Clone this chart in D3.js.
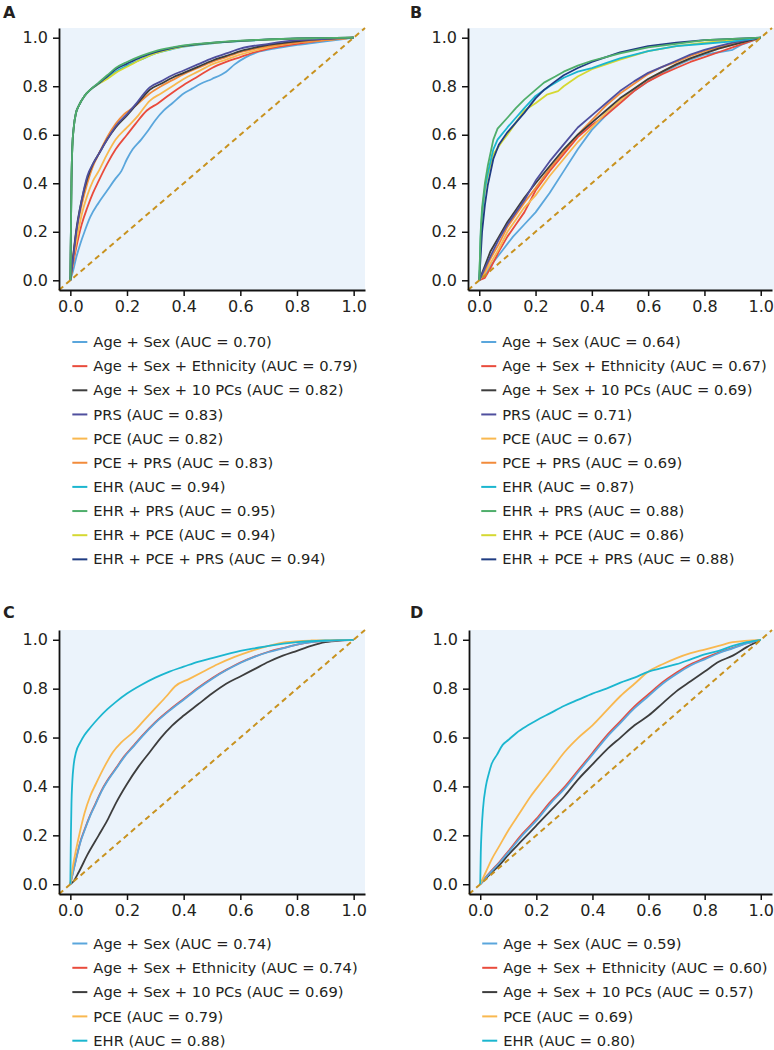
<!DOCTYPE html>
<html><head><meta charset="utf-8">
<script src="https://cdn.jsdelivr.net/npm/d3@7"></script>
<style>
html,body{margin:0;padding:0;background:#fff;}
svg text{font-family:"DejaVu Sans",sans-serif;fill:#231f20;}
</style></head>
<body>
<svg id="c" width="774" height="1050"></svg>
<script>
// ---------- DATA ----------
const tickValues = [0.0, 0.2, 0.4, 0.6, 0.8, 1.0];
const panelLetters = ["A", "B", "C", "D"];

const namesAB = ["Age + Sex", "Age + Sex + Ethnicity", "Age + Sex + 10 PCs", "PRS", "PCE", "PCE + PRS", "EHR", "EHR + PRS", "EHR + PCE", "EHR + PCE + PRS"];
const namesCD = ["Age + Sex", "Age + Sex + Ethnicity", "Age + Sex + 10 PCs", "PCE", "EHR"];
const aucA = [0.70, 0.79, 0.82, 0.83, 0.82, 0.83, 0.94, 0.95, 0.94, 0.94];
const aucB = [0.64, 0.67, 0.69, 0.71, 0.67, 0.69, 0.87, 0.88, 0.86, 0.88];
const aucC = [0.74, 0.74, 0.69, 0.79, 0.88];
const aucD = [0.59, 0.60, 0.57, 0.69, 0.80];

// Panel A
const aAgeSex = [[0,0],[0.01,0.04],[0.02,0.09],[0.035,0.15],[0.05,0.2],[0.07,0.26],[0.1,0.32],[0.13,0.37],[0.16,0.42],[0.18,0.45],[0.2,0.5],[0.22,0.54],[0.25,0.58],[0.27,0.61],[0.3,0.66],[0.33,0.7],[0.36,0.73],[0.4,0.77],[0.43,0.79],[0.46,0.81],[0.5,0.83],[0.55,0.86],[0.58,0.89],[0.62,0.92],[0.66,0.94],[0.72,0.955],[0.8,0.97],[0.9,0.985],[1,1]];
const aEth = [[0,0],[0.01,0.07],[0.02,0.13],[0.04,0.23],[0.06,0.3],[0.08,0.36],[0.1,0.41],[0.13,0.48],[0.16,0.54],[0.2,0.6],[0.23,0.645],[0.27,0.7],[0.31,0.73],[0.35,0.765],[0.4,0.805],[0.45,0.84],[0.5,0.875],[0.55,0.9],[0.6,0.92],[0.65,0.94],[0.7,0.955],[0.8,0.975],[0.9,0.99],[1,1]];
const aPCs = [[0,0],[0.01,0.1],[0.02,0.2],[0.04,0.33],[0.06,0.42],[0.08,0.48],[0.1,0.52],[0.13,0.58],[0.16,0.63],[0.2,0.68],[0.23,0.72],[0.26,0.76],[0.28,0.785],[0.32,0.81],[0.36,0.835],[0.4,0.855],[0.45,0.88],[0.5,0.905],[0.55,0.925],[0.6,0.945],[0.7,0.97],[0.8,0.985],[0.9,0.995],[1,1]];
const aPRS = [[0,0],[0.01,0.09],[0.02,0.19],[0.04,0.33],[0.06,0.43],[0.08,0.48],[0.1,0.52],[0.13,0.58],[0.16,0.635],[0.2,0.685],[0.23,0.725],[0.26,0.77],[0.28,0.795],[0.32,0.82],[0.36,0.845],[0.4,0.865],[0.45,0.89],[0.5,0.915],[0.55,0.935],[0.6,0.955],[0.7,0.975],[0.8,0.99],[0.9,0.995],[1,1]];
const aPCE = [[0,0],[0.01,0.08],[0.02,0.15],[0.04,0.27],[0.06,0.35],[0.08,0.41],[0.1,0.45],[0.13,0.52],[0.16,0.58],[0.2,0.63],[0.24,0.68],[0.28,0.74],[0.32,0.77],[0.36,0.8],[0.4,0.83],[0.45,0.86],[0.5,0.89],[0.55,0.91],[0.6,0.93],[0.7,0.96],[0.8,0.98],[0.9,0.99],[1,1]];
const aPCEPRS = [[0,0],[0.01,0.1],[0.02,0.19],[0.04,0.31],[0.06,0.4],[0.08,0.47],[0.1,0.52],[0.13,0.59],[0.16,0.645],[0.19,0.685],[0.22,0.71],[0.25,0.74],[0.28,0.77],[0.32,0.8],[0.36,0.825],[0.4,0.85],[0.45,0.875],[0.5,0.9],[0.55,0.92],[0.6,0.94],[0.7,0.965],[0.8,0.98],[0.9,0.99],[1,1]];
const aEHR = [[0,0],[0.002,0.2],[0.004,0.4],[0.007,0.55],[0.012,0.63],[0.02,0.69],[0.03,0.72],[0.05,0.76],[0.07,0.785],[0.1,0.81],[0.13,0.835],[0.16,0.86],[0.2,0.885],[0.25,0.91],[0.3,0.935],[0.35,0.95],[0.4,0.963],[0.5,0.977],[0.6,0.986],[0.7,0.992],[0.8,0.996],[1,1]];
const aEHRPRS = [[0,0],[0.002,0.2],[0.004,0.4],[0.007,0.55],[0.012,0.63],[0.02,0.69],[0.03,0.72],[0.05,0.76],[0.07,0.785],[0.1,0.815],[0.13,0.845],[0.16,0.875],[0.2,0.9],[0.25,0.925],[0.3,0.945],[0.35,0.958],[0.4,0.968],[0.5,0.98],[0.6,0.988],[0.7,0.993],[0.8,0.997],[1,1]];
const aEHRPCE = [[0,0],[0.002,0.2],[0.004,0.4],[0.007,0.55],[0.012,0.63],[0.02,0.69],[0.03,0.72],[0.05,0.76],[0.07,0.785],[0.1,0.81],[0.13,0.83],[0.16,0.855],[0.2,0.88],[0.25,0.91],[0.3,0.935],[0.35,0.952],[0.4,0.964],[0.5,0.978],[0.6,0.987],[0.7,0.992],[0.8,0.996],[1,1]];
const aEHRPCEPRS = [[0,0],[0.002,0.2],[0.004,0.4],[0.007,0.55],[0.012,0.63],[0.02,0.69],[0.03,0.72],[0.05,0.76],[0.07,0.785],[0.1,0.812],[0.13,0.84],[0.16,0.87],[0.2,0.893],[0.25,0.92],[0.3,0.94],[0.35,0.955],[0.4,0.966],[0.5,0.979],[0.6,0.987],[0.7,0.993],[0.8,0.997],[1,1]];

// Panel B
const bAgeSex = [[0,0],[0.02,0.02],[0.04,0.06],[0.08,0.12],[0.12,0.18],[0.16,0.23],[0.2,0.28],[0.25,0.36],[0.3,0.45],[0.35,0.54],[0.4,0.62],[0.45,0.68],[0.5,0.74],[0.55,0.78],[0.6,0.82],[0.65,0.855],[0.7,0.885],[0.75,0.91],[0.8,0.93],[0.85,0.94],[0.9,0.95],[0.93,0.97],[1,1]];
const bEth = [[0,0],[0.02,0.01],[0.04,0.05],[0.07,0.12],[0.1,0.18],[0.13,0.23],[0.16,0.28],[0.2,0.37],[0.25,0.45],[0.3,0.52],[0.35,0.59],[0.4,0.64],[0.45,0.68],[0.5,0.73],[0.55,0.78],[0.6,0.82],[0.65,0.85],[0.7,0.875],[0.75,0.9],[0.8,0.92],[0.85,0.94],[0.9,0.96],[1,1]];
const bPCs = [[0,0],[0.02,0.06],[0.04,0.12],[0.07,0.18],[0.1,0.24],[0.13,0.29],[0.16,0.34],[0.2,0.4],[0.25,0.47],[0.3,0.54],[0.35,0.6],[0.4,0.65],[0.45,0.7],[0.5,0.75],[0.55,0.79],[0.6,0.83],[0.65,0.86],[0.7,0.89],[0.75,0.915],[0.8,0.935],[0.85,0.955],[0.9,0.97],[1,1]];
const bPRS = [[0,0],[0.02,0.05],[0.04,0.1],[0.07,0.17],[0.1,0.23],[0.13,0.28],[0.16,0.33],[0.2,0.41],[0.25,0.49],[0.3,0.56],[0.35,0.63],[0.4,0.68],[0.45,0.73],[0.5,0.78],[0.55,0.82],[0.6,0.855],[0.65,0.88],[0.7,0.905],[0.75,0.93],[0.8,0.95],[0.85,0.965],[0.9,0.98],[1,1]];
const bPCE = [[0,0],[0.02,0.03],[0.04,0.07],[0.07,0.13],[0.1,0.2],[0.13,0.25],[0.16,0.3],[0.2,0.35],[0.25,0.43],[0.3,0.5],[0.35,0.57],[0.4,0.63],[0.45,0.69],[0.5,0.74],[0.55,0.79],[0.6,0.83],[0.65,0.86],[0.7,0.89],[0.75,0.915],[0.8,0.935],[0.85,0.955],[0.9,0.97],[1,1]];
const bPCEPRS = [[0,0],[0.02,0.04],[0.04,0.09],[0.07,0.15],[0.1,0.22],[0.13,0.27],[0.16,0.32],[0.2,0.38],[0.25,0.46],[0.3,0.53],[0.35,0.6],[0.4,0.66],[0.45,0.72],[0.5,0.77],[0.55,0.81],[0.6,0.85],[0.65,0.88],[0.7,0.9],[0.75,0.925],[0.8,0.945],[0.85,0.96],[0.9,0.975],[1,1]];
const bEHR = [[0,0],[0.005,0.18],[0.01,0.28],[0.02,0.38],[0.03,0.44],[0.05,0.54],[0.065,0.58],[0.1,0.63],[0.13,0.67],[0.16,0.71],[0.2,0.76],[0.25,0.8],[0.3,0.835],[0.35,0.86],[0.4,0.875],[0.45,0.895],[0.5,0.915],[0.6,0.945],[0.7,0.965],[0.8,0.975],[0.9,0.985],[1,1]];
const bEHRPRS = [[0,0],[0.005,0.2],[0.01,0.3],[0.02,0.4],[0.03,0.47],[0.05,0.58],[0.065,0.625],[0.1,0.67],[0.13,0.71],[0.16,0.745],[0.2,0.785],[0.23,0.815],[0.27,0.84],[0.3,0.86],[0.35,0.885],[0.4,0.905],[0.45,0.92],[0.5,0.935],[0.6,0.96],[0.7,0.975],[0.8,0.99],[0.9,0.995],[1,1]];
const bEHRPCE = [[0,0],[0.005,0.17],[0.01,0.27],[0.02,0.37],[0.03,0.43],[0.05,0.52],[0.08,0.57],[0.1,0.6],[0.13,0.65],[0.16,0.7],[0.2,0.73],[0.24,0.765],[0.28,0.78],[0.3,0.8],[0.35,0.84],[0.4,0.87],[0.45,0.89],[0.5,0.91],[0.6,0.945],[0.7,0.965],[0.8,0.98],[0.9,0.99],[1,1]];
const bEHRPCEPRS = [[0,0],[0.005,0.1],[0.01,0.2],[0.02,0.31],[0.03,0.39],[0.05,0.5],[0.07,0.56],[0.1,0.61],[0.13,0.65],[0.16,0.69],[0.2,0.75],[0.23,0.785],[0.27,0.82],[0.3,0.845],[0.35,0.875],[0.4,0.9],[0.45,0.92],[0.5,0.94],[0.6,0.965],[0.7,0.98],[0.8,0.99],[0.9,0.995],[1,1]];

// Panel C
const cAgeSex = [[0,0],[0.01,0.05],[0.02,0.1],[0.035,0.17],[0.05,0.22],[0.07,0.28],[0.09,0.33],[0.11,0.38],[0.13,0.42],[0.16,0.47],[0.19,0.52],[0.22,0.56],[0.25,0.6],[0.3,0.66],[0.35,0.71],[0.4,0.755],[0.45,0.8],[0.5,0.84],[0.55,0.875],[0.6,0.905],[0.65,0.93],[0.7,0.95],[0.75,0.965],[0.8,0.98],[0.85,0.99],[0.9,0.995],[1,1]];
const cEth = [[0,0],[0.01,0.053],[0.02,0.103],[0.035,0.173],[0.05,0.223],[0.07,0.283],[0.09,0.333],[0.11,0.383],[0.13,0.423],[0.16,0.473],[0.19,0.523],[0.22,0.563],[0.25,0.603],[0.3,0.663],[0.35,0.713],[0.4,0.758],[0.45,0.803],[0.5,0.843],[0.55,0.877],[0.6,0.907],[0.65,0.931],[0.7,0.951],[0.75,0.966],[0.8,0.98],[0.85,0.99],[0.9,0.995],[1,1]];
const cPCs = [[0,0],[0.01,0.01],[0.03,0.05],[0.06,0.12],[0.1,0.2],[0.13,0.26],[0.16,0.33],[0.2,0.41],[0.24,0.48],[0.28,0.54],[0.32,0.6],[0.36,0.65],[0.4,0.69],[0.45,0.735],[0.5,0.78],[0.55,0.82],[0.6,0.85],[0.65,0.88],[0.7,0.91],[0.75,0.935],[0.8,0.955],[0.85,0.975],[0.9,0.99],[0.95,0.997],[1,1]];
const cPCE = [[0,0],[0.01,0.08],[0.02,0.14],[0.035,0.22],[0.05,0.29],[0.07,0.36],[0.09,0.41],[0.12,0.48],[0.15,0.54],[0.18,0.58],[0.22,0.62],[0.26,0.67],[0.3,0.72],[0.34,0.77],[0.37,0.81],[0.42,0.84],[0.47,0.87],[0.52,0.9],[0.58,0.93],[0.64,0.955],[0.7,0.975],[0.76,0.99],[0.85,0.997],[1,1]];
const cEHR = [[0,0],[0.002,0.2],[0.004,0.33],[0.007,0.42],[0.012,0.49],[0.02,0.54],[0.035,0.58],[0.05,0.61],[0.07,0.64],[0.1,0.68],[0.13,0.715],[0.16,0.745],[0.2,0.78],[0.25,0.815],[0.3,0.845],[0.35,0.87],[0.4,0.89],[0.45,0.91],[0.5,0.925],[0.55,0.94],[0.6,0.955],[0.65,0.965],[0.7,0.975],[0.8,0.99],[0.9,0.997],[1,1]];

// Panel D
const dAgeSex = [[0,0],[0.03,0.04],[0.07,0.09],[0.1,0.13],[0.15,0.2],[0.2,0.26],[0.25,0.33],[0.3,0.39],[0.35,0.46],[0.4,0.53],[0.45,0.6],[0.5,0.66],[0.55,0.72],[0.6,0.77],[0.65,0.82],[0.7,0.86],[0.75,0.895],[0.8,0.92],[0.85,0.945],[0.9,0.965],[0.95,0.985],[1,1]];
const dEth = [[0,0],[0.03,0.042],[0.07,0.093],[0.1,0.135],[0.15,0.206],[0.2,0.267],[0.25,0.337],[0.3,0.397],[0.35,0.467],[0.4,0.537],[0.45,0.607],[0.5,0.667],[0.55,0.727],[0.6,0.777],[0.65,0.826],[0.7,0.866],[0.75,0.9],[0.8,0.925],[0.85,0.948],[0.9,0.967],[0.95,0.986],[1,1]];
const dPCs = [[0,0],[0.03,0.035],[0.07,0.08],[0.1,0.12],[0.15,0.18],[0.2,0.24],[0.25,0.3],[0.3,0.36],[0.35,0.43],[0.4,0.49],[0.45,0.55],[0.5,0.6],[0.55,0.65],[0.6,0.69],[0.65,0.74],[0.7,0.79],[0.75,0.83],[0.8,0.87],[0.85,0.91],[0.9,0.935],[0.95,0.97],[1,1]];
const dPCE = [[0,0],[0.02,0.05],[0.04,0.1],[0.07,0.16],[0.1,0.22],[0.14,0.29],[0.18,0.36],[0.22,0.42],[0.26,0.48],[0.3,0.54],[0.35,0.6],[0.4,0.65],[0.45,0.71],[0.5,0.77],[0.55,0.82],[0.6,0.87],[0.65,0.9],[0.7,0.925],[0.75,0.945],[0.8,0.96],[0.85,0.975],[0.9,0.99],[1,1]];
const dEHR = [[0,0],[0.002,0.13],[0.005,0.22],[0.01,0.31],[0.02,0.4],[0.03,0.45],[0.04,0.49],[0.06,0.53],[0.08,0.57],[0.1,0.59],[0.13,0.62],[0.17,0.65],[0.2,0.67],[0.25,0.7],[0.3,0.73],[0.35,0.755],[0.4,0.78],[0.45,0.8],[0.5,0.825],[0.55,0.845],[0.6,0.87],[0.65,0.885],[0.7,0.9],[0.75,0.92],[0.8,0.94],[0.85,0.955],[0.9,0.975],[0.95,0.99],[1,1]];

// ---------- STYLE ----------
const colorsAB = ["#5aa6dc", "#e94b3c", "#3d3d3d", "#4f4f9e", "#f9b84f", "#f28b3b", "#1bb6cf", "#4fae6b", "#d5d832", "#1f3c82"];
const colorsCD = ["#5aa6dc", "#e94b3c", "#3d3d3d", "#f9b84f", "#1bb6cf"];
const bg = "#ebf3fb", diagColor = "#c8921f";
const FONT = "DejaVu Sans";

const svg = d3.select("#c");
const dom = [-0.04, 1.04];

function panel(cfg) {
  const x = d3.scaleLinear().domain(dom).range([cfg.x0, cfg.x1]);
  const y = d3.scaleLinear().domain(dom).range([cfg.y1, cfg.y0]);
  const g = svg.append("g");
  g.append("rect").attr("x", cfg.x0).attr("y", cfg.y0)
    .attr("width", (cfg.bgRight || cfg.x1) - cfg.x0).attr("height", cfg.y1 - cfg.y0).attr("fill", bg);
  const line = d3.line().x(d => x(d[0])).y(d => y(d[1])).curve(cfg.curve);
  cfg.order.forEach(i => {
    g.append("path").datum(cfg.series[i]).attr("d", line)
      .attr("fill", "none").attr("stroke", cfg.colors[i]).attr("stroke-width", 1.8)
      .attr("stroke-linejoin", "round");
  });
  g.append("path").datum([[dom[0], dom[0]], [dom[1], dom[1]]]).attr("d", d3.line().x(d => x(d[0])).y(d => y(d[1])))
    .attr("stroke", diagColor).attr("stroke-width", 2).attr("stroke-dasharray", "5.5,4").attr("fill", "none");
  // axes
  const xa = g.append("g").attr("transform", `translate(0,${cfg.y1})`)
    .call(d3.axisBottom(x).tickValues(tickValues).tickFormat(d3.format(".1f")).tickSize(6).tickPadding(5).tickSizeOuter(0));
  const ya = g.append("g").attr("transform", `translate(${cfg.x0},0)`)
    .call(d3.axisLeft(y).tickValues(tickValues).tickFormat(d3.format(".1f")).tickSize(6).tickPadding(5).tickSizeOuter(0));
  [xa, ya].forEach(a => {
    a.select(".domain").attr("stroke", "#111").attr("stroke-width", 1.8);
    a.selectAll(".tick line").attr("stroke", "#111").attr("stroke-width", 1.5);
    a.selectAll(".tick text").attr("font-size", 16).attr("font-family", FONT).attr("fill", "#231f20");
  });
  // letter
  svg.append("text").attr("x", cfg.lx).attr("y", cfg.ly).text(cfg.letter)
    .attr("font-size", 16).attr("font-weight", "bold").attr("font-family", FONT);
  // legend
  const lg = svg.append("g");
  cfg.names.forEach((n, i) => {
    const yy = cfg.legY + i * cfg.legStep;
    lg.append("line").attr("x1", x(0) + 2).attr("x2", x(0) + 17).attr("y1", yy).attr("y2", yy)
      .attr("stroke", cfg.colors[i]).attr("stroke-width", 2);
    lg.append("text").attr("x", x(0) + 23).attr("y", yy).attr("dy", "0.35em")
      .attr("font-size", 14.7).attr("font-family", FONT).text(`${n} (AUC = ${cfg.auc[i].toFixed(2)})`);
  });
}

panel({letter: "A", lx: 3, ly: 18, x0: 59, x1: 365, y0: 28, y1: 290, curve: d3.curveMonotoneX,
  series: [aAgeSex, aEth, aPCs, aPRS, aPCE, aPCEPRS, aEHR, aEHRPRS, aEHRPCE, aEHRPCEPRS],
  colors: colorsAB, names: namesAB, auc: aucA, order: [0,1,4,5,2,3,6,8,9,7], legY: 342, legStep: 24.15});
panel({letter: "B", lx: 410, ly: 18, x0: 468, x1: 772, bgRight: 774, y0: 28, y1: 290, curve: d3.curveLinear,
  series: [bAgeSex, bEth, bPCs, bPRS, bPCE, bPCEPRS, bEHR, bEHRPRS, bEHRPCE, bEHRPCEPRS],
  colors: colorsAB, names: namesAB, auc: aucB, order: [0,1,4,5,2,3,8,6,9,7], legY: 342, legStep: 24.15});
panel({letter: "C", lx: 3, ly: 618, x0: 59, x1: 365, y0: 630, y1: 894, curve: d3.curveMonotoneX,
  series: [cAgeSex, cEth, cPCs, cPCE, cEHR],
  colors: colorsCD, names: namesCD, auc: aucC, order: [2,1,0,3,4], legY: 943.5, legStep: 24.3});
panel({letter: "D", lx: 410, ly: 618, x0: 469, x1: 772, bgRight: 774, y0: 630, y1: 894, curve: d3.curveMonotoneX,
  series: [dAgeSex, dEth, dPCs, dPCE, dEHR],
  colors: colorsCD, names: namesCD, auc: aucD, order: [2,1,0,3,4], legY: 943.5, legStep: 24.3});
</script>
</body></html>
